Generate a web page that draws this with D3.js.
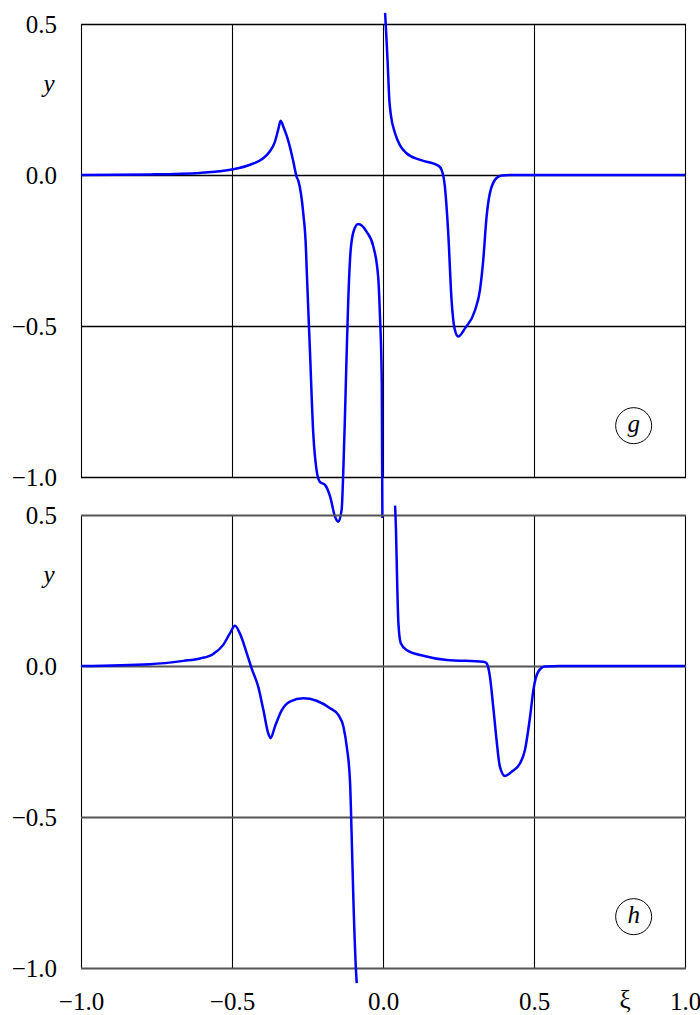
<!DOCTYPE html>
<html>
<head>
<meta charset="utf-8">
<script src="https://cdn.jsdelivr.net/npm/d3@7"></script>
<style>
  body { margin: 0; background: #fff; }
  svg text { font-family: "Liberation Serif", "Times New Roman", serif !important; fill: #000; }
</style>
</head>
<body>
<svg id="chart"></svg>
<script>
// tick values
const xiTicks = [-1, -0.5, 0, 0.5, 1];
const yTicks = [0.5, 0, -0.5, -1];

// panel g, left branch [xi, y]
const gLeft = [
  [-1.000, 0], [-0.772, 0.002], [-0.606, 0.007], [-0.496, 0.019], [-0.440, 0.034],
  [-0.400, 0.053], [-0.375, 0.078], [-0.358, 0.110], [-0.347, 0.150], [-0.339, 0.180],
  [-0.330, 0.160], [-0.319, 0.130], [-0.308, 0.092], [-0.297, 0.045], [-0.286, -0.006],
  [-0.280, -0.020], [-0.264, -0.127], [-0.255, -0.248], [-0.253, -0.304], [-0.242, -0.579],
  [-0.231, -0.854], [-0.220, -0.977], [-0.209, -1.016], [-0.192, -1.026], [-0.175, -1.065],
  [-0.159, -1.131], [-0.148, -1.148], [-0.137, -1.109], [-0.131, -0.966], [-0.126, -0.800],
  [-0.120, -0.579], [-0.115, -0.414], [-0.107, -0.248], [-0.096, -0.182], [-0.082, -0.162],
  [-0.054, -0.188], [-0.032, -0.237], [-0.016, -0.337], [-0.010, -0.469], [-0.004, -0.689],
  [-0.002, -1.136]
];
// panel g, right branch
const gRight = [
  [0.007, 0.537], [0.010, 0.480], [0.015, 0.381], [0.021, 0.248], [0.026, 0.199],
  [0.040, 0.138], [0.056, 0.099], [0.078, 0.072], [0.123, 0.050], [0.183, 0.031],
  [0.194, 0.017], [0.205, -0.039], [0.216, -0.192], [0.227, -0.414], [0.238, -0.513],
  [0.249, -0.535], [0.272, -0.507], [0.305, -0.447], [0.321, -0.381], [0.332, -0.281],
  [0.343, -0.138], [0.354, -0.060], [0.376, -0.010], [0.393, -0.002], [0.420, 0],
  [1.000, 0]
];
// panel h, left branch
const hLeft = [
  [-1.000, 0], [-0.772, 0.006], [-0.661, 0.017], [-0.606, 0.025], [-0.562, 0.040],
  [-0.529, 0.070], [-0.507, 0.108], [-0.490, 0.133], [-0.474, 0.108], [-0.451, 0.042],
  [-0.435, -0.008], [-0.413, -0.069], [-0.396, -0.146], [-0.380, -0.223], [-0.372, -0.239],
  [-0.358, -0.201], [-0.335, -0.146], [-0.308, -0.118], [-0.264, -0.107], [-0.220, -0.115],
  [-0.175, -0.140], [-0.148, -0.162], [-0.131, -0.201], [-0.120, -0.267], [-0.109, -0.387],
  [-0.104, -0.553], [-0.098, -0.775], [-0.089, -1.017], [-0.087, -1.050]
];
// panel h, right branch
const hRight = [
  [0.040, 0.531], [0.043, 0.450], [0.045, 0.362], [0.051, 0.142], [0.059, 0.075],
  [0.078, 0.053], [0.133, 0.034], [0.211, 0.020], [0.332, 0.014], [0.343, 0.009],
  [0.354, -0.035], [0.365, -0.135], [0.376, -0.245], [0.387, -0.333], [0.404, -0.364],
  [0.426, -0.350], [0.454, -0.322], [0.470, -0.278], [0.487, -0.168], [0.498, -0.079],
  [0.514, -0.019], [0.536, -0.002], [0.586, 0], [1.000, 0]
];

const panels = [
  { label: 'g', top: 24, bottom: 477, branches: [gLeft, gRight], hColor: '#000', hWidth: 1.3 },
  { label: 'h', top: 515, bottom: 968, branches: [hLeft, hRight], hColor: '#555', hWidth: 1.8 }
];

const W = 700, H = 1015;
const FONT = '"Liberation Serif", "Times New Roman", serif';
const FS = 25;
const svg = d3.select('#chart').attr('width', W).attr('height', H);

const x = d3.scaleLinear().domain([-1, 1]).range([81, 685]);
const fmt = d3.format('.1f');

panels.forEach(p => {
  const y = d3.scaleLinear().domain([-1, 0.5]).range([p.bottom, p.top]);
  const g = svg.append('g');

  // vertical grid lines
  g.selectAll('.vline')
    .data(xiTicks)
    .enter()
    .append('line')
    .attr('x1', d => Math.round(x(d)) + 0.5).attr('x2', d => Math.round(x(d)) + 0.5)
    .attr('y1', y(0.5)).attr('y2', y(-1))
    .attr('stroke', '#000')
    .attr('stroke-width', 1.1);

  // horizontal grid lines
  g.selectAll('.hline')
    .data(yTicks)
    .enter()
    .append('line')
    .attr('x1', x(-1)).attr('x2', x(1) + 1)
    .attr('y1', d => Math.round(y(d)) + 0.5).attr('y2', d => Math.round(y(d)) + 0.5)
    .attr('stroke', p.hColor)
    .attr('stroke-width', p.hWidth);

  // y axis labels
  const yAxis = d3.axisLeft(y).tickValues(yTicks).tickFormat(fmt).tickSize(0).tickPadding(24);
  const ya = g.append('g').attr('transform', `translate(${x(-1)},0)`).call(yAxis)
    .attr('font-family', FONT).attr('font-size', FS);
  ya.select('.domain').remove();
  ya.selectAll('text').attr('fill', '#000');

  // y label
  g.append('text')
    .attr('x', 49).attr('y', y(0.3))
    .attr('text-anchor', 'middle')
    .attr('dy', '0.3em')
    .attr('font-family', FONT)
    .attr('font-style', 'italic')
    .attr('font-size', FS)
    .text('y');

  // circled panel label
  const cx = x(0.83), cy = y(-0.83);
  g.append('circle')
    .attr('cx', cx).attr('cy', cy).attr('r', 18)
    .attr('fill', 'none').attr('stroke', '#000').attr('stroke-width', 1);
  g.append('text')
    .attr('x', cx).attr('y', cy)
    .attr('dy', '0.25em')
    .attr('text-anchor', 'middle')
    .attr('font-family', FONT)
    .attr('font-style', 'italic')
    .attr('font-size', FS)
    .text(p.label);

  // curve
  const line = d3.line()
    .x(d => x(d[0]))
    .y(d => y(d[1]))
    .curve(d3.curveMonotoneX);

  p.branches.forEach(b => {
    g.append('path')
      .datum(b)
      .attr('d', line)
      .attr('fill', 'none')
      .attr('stroke', '#0000ff')
      .attr('stroke-width', 2.5);
  });
});

// x axis labels
const xAxis = d3.axisBottom(x).tickValues(xiTicks).tickFormat(fmt).tickSize(0).tickPadding(0);
const xa = svg.append('g').attr('transform', 'translate(0,992)').call(xAxis)
  .attr('font-family', FONT).attr('font-size', FS);
xa.select('.domain').remove();
xa.selectAll('text').attr('fill', '#000').attr('dy', '0.71em');

svg.append('text')
  .attr('x', 625).attr('y', 1008)
  .attr('text-anchor', 'middle')
  .attr('font-family', FONT)
  .attr('font-size', FS)
  .text('ξ');
</script>
</body>
</html>
